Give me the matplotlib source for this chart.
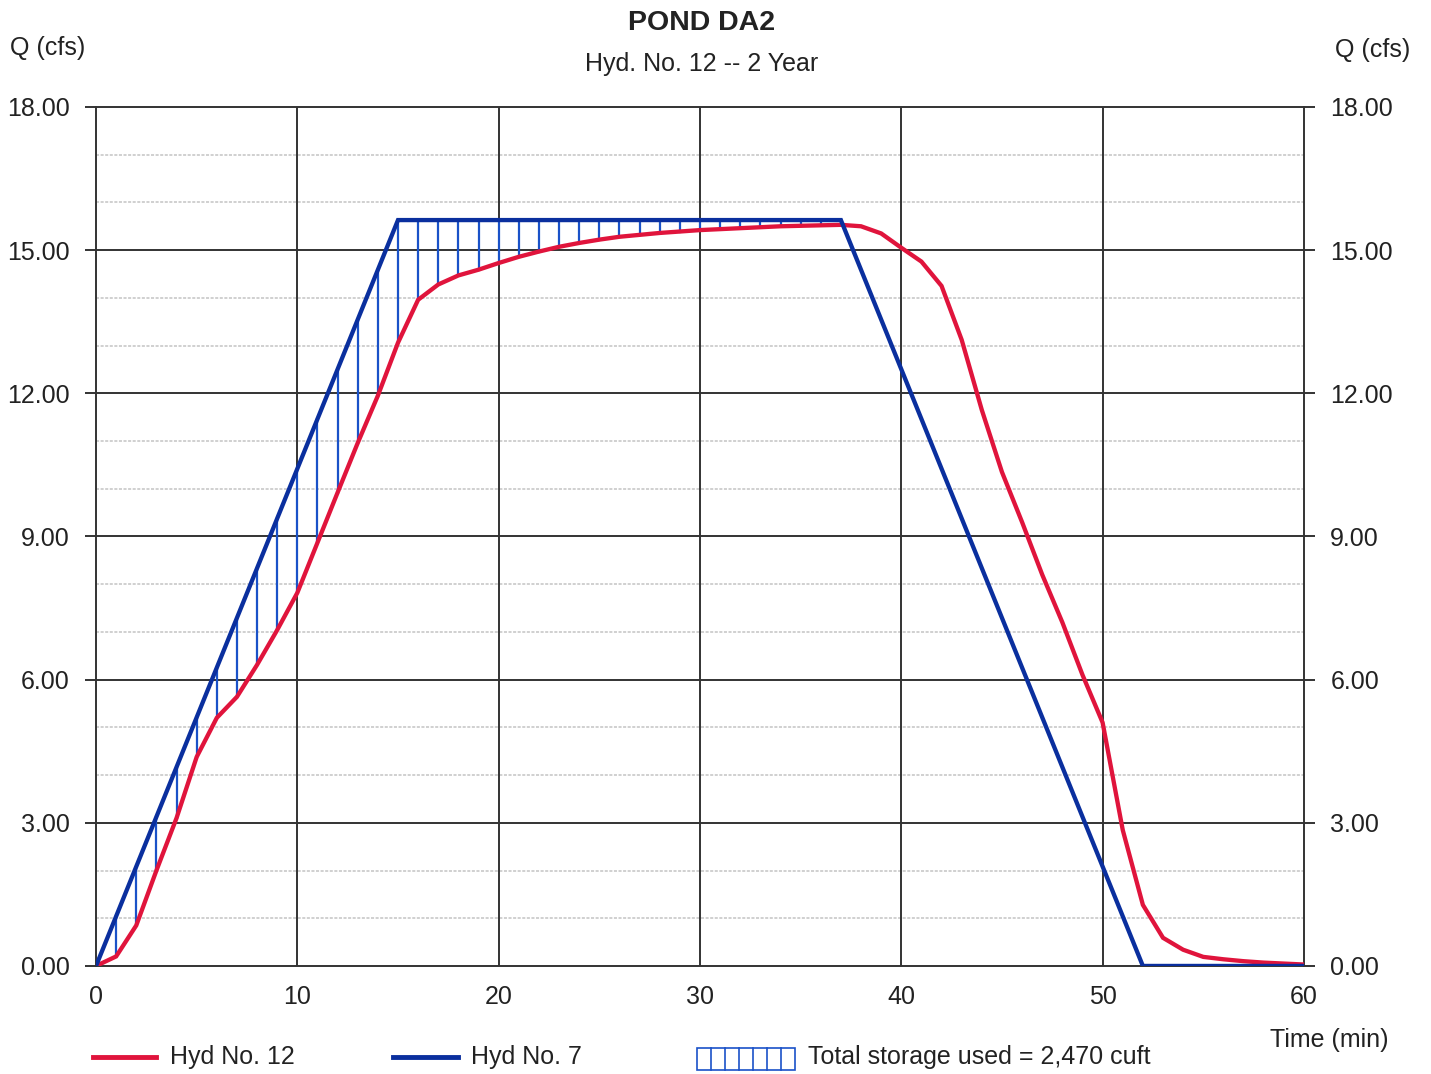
import matplotlib
matplotlib.use("Agg")
import matplotlib.pyplot as plt
from matplotlib.lines import Line2D
from matplotlib.patches import Rectangle
import numpy as np

plt.rcParams['font.family'] = ['Liberation Sans', 'DejaVu Sans']

# time (min)
minutes = list(range(0, 61))

# Hyd No. 7 (inflow) breakpoints
inflow_t = [0, 15, 37, 52, 60]
inflow_q = [0.0, 15.63, 15.63, 0.0, 0.0]

# Hyd No. 7 read per minute (for storage hatch)
inflow_min = [0.00, 1.04, 2.08, 3.13, 4.17, 5.21, 6.25, 7.29, 8.34, 9.38,
              10.42, 11.46, 12.50, 13.55, 14.59, 15.63, 15.63, 15.63, 15.63, 15.63,
              15.63, 15.63, 15.63, 15.63, 15.63, 15.63, 15.63, 15.63, 15.63, 15.63,
              15.63, 15.63, 15.63, 15.63, 15.63, 15.63, 15.63, 15.63, 14.59, 13.55,
              12.50, 11.46, 10.42, 9.38, 8.34, 7.29, 6.25, 5.21, 4.17, 3.13,
              2.08, 1.04, 0.00, 0.00, 0.00, 0.00, 0.00, 0.00, 0.00, 0.00, 0.00]

# Hyd No. 12 (outflow) per minute
outflow_q = [0.00, 0.20, 0.85, 2.00, 3.10, 4.38, 5.20, 5.64, 6.31, 7.04,
             7.82, 8.87, 9.92, 10.96, 11.95, 13.06, 13.96, 14.28, 14.47, 14.59,
             14.73, 14.86, 14.97, 15.07, 15.15, 15.22, 15.28, 15.32, 15.36, 15.39,
             15.42, 15.44, 15.46, 15.48, 15.50, 15.51, 15.52, 15.53, 15.50, 15.35,
             15.05, 14.76, 14.25, 13.12, 11.65, 10.35, 9.30, 8.20, 7.20, 6.10,
             5.10, 2.85, 1.28, 0.59, 0.34, 0.19, 0.14, 0.10, 0.07, 0.05, 0.03]

x_ticks = [0, 10, 20, 30, 40, 50, 60]
y_ticks = [0, 3, 6, 9, 12, 15, 18]
y_labels = ["0.00", "3.00", "6.00", "9.00", "12.00", "15.00", "18.00"]

RED = '#e0143c'
BLUE = '#0a2f9e'
HATCH = '#1a52c8'

fig = plt.figure(figsize=(14.31, 10.74), dpi=100)
ax = fig.add_axes([0.0671, 0.1006, 0.8441, 0.7998])
ax.set_xlim(0, 60)
ax.set_ylim(0, 18)

# minor grid
for v in range(1, 18):
    if v % 3:
        ax.axhline(v, color='#c4c4c4', lw=1.1, ls=(0, (2, 1)), zorder=1)
for v in y_ticks[1:-1]:
    ax.axhline(v, color='#333333', lw=1.4, zorder=1)
for v in x_ticks[1:-1]:
    ax.axvline(v, color='#333333', lw=1.4, zorder=1)

# storage hatch
for t, qi, qo in zip(minutes, inflow_min, outflow_q):
    if qi > qo + 0.05:
        ax.plot([t, t], [qo, qi], color=HATCH, lw=1.6, zorder=2)

ax.plot(minutes, outflow_q, color=RED, lw=3.1, zorder=3, solid_joinstyle='miter')
ax.plot(inflow_t, inflow_q, color=BLUE, lw=3.1, zorder=4, solid_joinstyle='miter')

for s in ax.spines.values():
    s.set_color('#333333')
    s.set_linewidth(1.4)

ax.set_xticks(x_ticks)
ax.set_xticklabels([str(v) for v in x_ticks])
ax.set_yticks(y_ticks)
ax.set_yticklabels(y_labels)
ax.tick_params(axis='x', length=0, pad=14, labelsize=18, colors='#222222')
ax.tick_params(axis='y', length=8, width=1.4, color='#333333', labelsize=18,
               labelcolor='#222222', pad=11, left=True, right=True,
               labelleft=True, labelright=True)

fig.text(0.4905, 0.979, "POND DA2", ha='center', va='center', fontsize=20.5,
         fontweight='bold', color='#222222')
fig.text(0.4905, 0.940, "Hyd. No. 12 -- 2 Year", ha='center', va='center',
         fontsize=18, color='#222222')
fig.text(0.007, 0.955, "Q (cfs)", ha='left', va='center', fontsize=18, color='#222222')
fig.text(0.933, 0.953, "Q (cfs)", ha='left', va='center', fontsize=18, color='#222222')
fig.text(0.970, 0.032, "Time (min)", ha='right', va='center', fontsize=18, color='#222222')

# legend
ly = 1 - 1057 / 1074
fig.add_artist(Line2D([93 / 1431, 156 / 1431], [ly, ly], color=RED, lw=3.5))
fig.text(170 / 1431, ly, "Hyd No. 12", ha='left', va='center', fontsize=18, color='#222222')
fig.add_artist(Line2D([393 / 1431, 458 / 1431], [ly, ly], color=BLUE, lw=3.5))
fig.text(471 / 1431, ly, "Hyd No. 7", ha='left', va='center', fontsize=18, color='#222222')
bx0, bx1 = 697 / 1431, 795 / 1431
by0, by1 = 1 - 1070 / 1074, 1 - 1048 / 1074
fig.add_artist(Rectangle((bx0, by0), bx1 - bx0, by1 - by0, transform=fig.transFigure,
                         fill=False, edgecolor=HATCH, lw=1.2))
for k in range(1, 7):
    xx = bx0 + (bx1 - bx0) * k / 7
    fig.add_artist(Line2D([xx, xx], [by0, by1], color=HATCH, lw=1.2))
fig.text(808 / 1431, ly, "Total storage used = 2,470 cuft", ha='left', va='center',
         fontsize=18, color='#222222')

fig.savefig("out.png", dpi=100, facecolor='white')
